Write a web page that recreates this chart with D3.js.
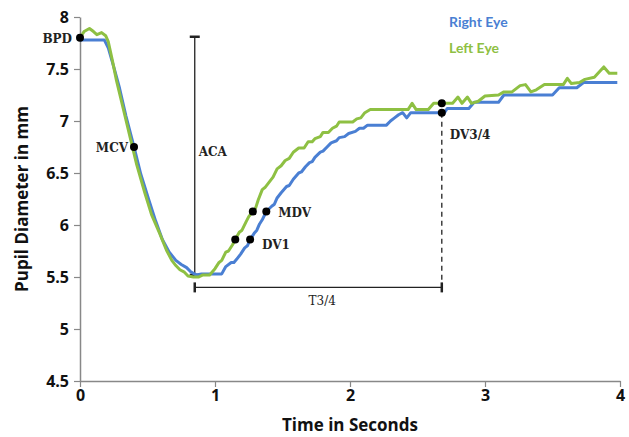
<!DOCTYPE html>
<html>
<head>
<meta charset="utf-8">
<script src="https://cdn.jsdelivr.net/npm/d3@7"></script>
<style>
  html, body { margin: 0; padding: 0; background: #fff; }
  svg { display: block; }
</style>
</head>
<body>
<div id="chart"></div>
<script>
(function () {
  'use strict';

  // ── Data (time in s, pupil diameter in mm) ──
  var RIGHT_EYE = [
    [0, 7.78], [0.18, 7.78], [0.21, 7.70], [0.25, 7.52], [0.29, 7.33], [0.34, 7.05],
    [0.40, 6.75], [0.45, 6.49], [0.51, 6.24], [0.56, 6.04], [0.61, 5.86], [0.66, 5.74],
    [0.71, 5.66], [0.75, 5.62], [0.79, 5.59], [0.82, 5.55], [0.86, 5.52], [0.90, 5.53],
    [1.05, 5.53], [1.08, 5.60], [1.12, 5.64], [1.14, 5.64], [1.16, 5.67], [1.19, 5.72],
    [1.22, 5.78], [1.24, 5.80], [1.26, 5.86], [1.29, 5.92], [1.31, 5.95], [1.33, 6.01],
    [1.35, 6.05], [1.38, 6.13], [1.42, 6.18], [1.44, 6.20], [1.46, 6.26], [1.49, 6.31],
    [1.53, 6.37], [1.55, 6.38], [1.58, 6.44], [1.62, 6.50], [1.64, 6.51], [1.67, 6.56],
    [1.70, 6.60], [1.72, 6.61], [1.74, 6.65], [1.78, 6.70], [1.80, 6.71], [1.83, 6.75],
    [1.86, 6.79], [1.90, 6.81], [1.92, 6.84], [1.96, 6.85], [1.99, 6.88], [2.04, 6.90],
    [2.07, 6.93], [2.10, 6.93], [2.13, 6.96], [2.27, 6.96], [2.30, 7.00], [2.33, 7.03],
    [2.36, 7.06], [2.39, 7.08], [2.42, 7.03], [2.45, 7.08], [2.70, 7.08], [2.72, 7.12],
    [2.88, 7.12], [2.92, 7.18], [3.10, 7.18], [3.14, 7.25], [3.50, 7.25], [3.55, 7.32],
    [3.68, 7.32], [3.73, 7.37], [3.98, 7.37]
  ];

  var LEFT_EYE = [
    [0, 7.80], [0.03, 7.86], [0.07, 7.89], [0.10, 7.86], [0.125, 7.83], [0.16, 7.85],
    [0.19, 7.82], [0.21, 7.76], [0.24, 7.58], [0.27, 7.39], [0.32, 7.12], [0.37, 6.85],
    [0.42, 6.58], [0.48, 6.31], [0.53, 6.10], [0.59, 5.92], [0.64, 5.76], [0.68, 5.66],
    [0.71, 5.61], [0.74, 5.57], [0.77, 5.55], [0.80, 5.51], [0.84, 5.50], [0.88, 5.50],
    [0.91, 5.52], [0.96, 5.52], [1.00, 5.58], [1.03, 5.64], [1.05, 5.66], [1.08, 5.74],
    [1.10, 5.75], [1.13, 5.81], [1.15, 5.86], [1.18, 5.93], [1.20, 5.95], [1.23, 6.03],
    [1.25, 6.08], [1.28, 6.13], [1.30, 6.16], [1.32, 6.24], [1.35, 6.34], [1.37, 6.36],
    [1.40, 6.41], [1.43, 6.46], [1.46, 6.54], [1.49, 6.57], [1.52, 6.62], [1.55, 6.64],
    [1.58, 6.70], [1.62, 6.74], [1.66, 6.74], [1.69, 6.80], [1.72, 6.80], [1.74, 6.83],
    [1.78, 6.85], [1.80, 6.89], [1.84, 6.89], [1.87, 6.93], [1.90, 6.95], [1.92, 6.99],
    [2.02, 6.99], [2.05, 7.02], [2.08, 7.03], [2.11, 7.08], [2.15, 7.11], [2.43, 7.11],
    [2.46, 7.17], [2.49, 7.11], [2.58, 7.11], [2.62, 7.17], [2.76, 7.17], [2.80, 7.23],
    [2.83, 7.17], [2.87, 7.23], [2.90, 7.17], [2.95, 7.19], [3.00, 7.24], [3.10, 7.25],
    [3.14, 7.28], [3.20, 7.28], [3.26, 7.34], [3.30, 7.35], [3.34, 7.28], [3.38, 7.30],
    [3.44, 7.35], [3.58, 7.35], [3.61, 7.41], [3.64, 7.36], [3.70, 7.37], [3.74, 7.40],
    [3.81, 7.42], [3.88, 7.52], [3.92, 7.46], [3.98, 7.46]
  ];

  var X_TICKS = [0, 1, 2, 3, 4];
  var Y_TICKS = [4.5, 5, 5.5, 6, 6.5, 7, 7.5, 8];

  var SERIES_NAMES = ['Right Eye', 'Left Eye'];

  // Marked points: [label or '', time, diameter]
  var MARKERS = [
    ['BPD', 0, 7.80],
    ['MCV', 0.40, 6.75],
    ['', 1.15, 5.86],
    ['DV1', 1.26, 5.86],
    ['', 1.28, 6.13],
    ['MDV', 1.38, 6.13],
    ['', 2.68, 7.17],
    ['DV3/4', 2.68, 7.08]
  ];

  // ACA span (time, from, to), T3/4 span (from, to, level)
  var ACA = [0.85, 5.52, 7.81];
  var T34 = [0.85, 2.68, 5.40];

  // ── Layout ──
  var WIDTH = 629;
  var HEIGHT = 437;
  var X_RANGE = [80, 620];
  var Y_RANGE = [381, 17];
  var BLUE = '#4a7fd3';
  var GREEN = '#8ec043';
  var AXIS_COLOR = '#888';
  var INK = '#222';
  var SANS = '"Open Sans", sans-serif';
  var SERIF = '"DejaVu Serif", serif';

  var svg = d3.select('#chart')
    .append('svg')
    .attr('width', WIDTH)
    .attr('height', HEIGHT);

  var x = d3.scaleLinear().domain([0, 4]).range(X_RANGE);
  var y = d3.scaleLinear().domain([4.5, 8]).range(Y_RANGE);

  // ── Axes ──
  var xG = svg.append('g')
    .attr('transform', 'translate(0,' + Y_RANGE[0] + ')')
    .call(d3.axisBottom(x).tickValues(X_TICKS).tickSize(6).tickSizeOuter(0).tickPadding(3)
      .tickFormat(function (d) { return d; }));

  var yG = svg.append('g')
    .attr('transform', 'translate(' + X_RANGE[0] + ',0)')
    .call(d3.axisLeft(y).tickValues(Y_TICKS).tickSize(6).tickSizeOuter(0).tickPadding(5)
      .tickFormat(function (d) { return d; }));

  [xG, yG].forEach(function (ax) {
    ax.select('.domain').attr('stroke', AXIS_COLOR).attr('stroke-width', 1.5);
    ax.selectAll('.tick line').attr('stroke', AXIS_COLOR).attr('stroke-width', 1.2);
    ax.selectAll('.tick text')
      .attr('fill', '#111')
      .attr('font-size', '16px')
      .attr('font-weight', 'bold')
      .attr('font-family', SANS);
  });

  svg.append('text')
    .attr('x', (X_RANGE[0] + X_RANGE[1]) / 2)
    .attr('y', 431)
    .attr('text-anchor', 'middle')
    .attr('fill', '#111')
    .attr('font-size', '17px')
    .attr('font-weight', 'bold')
    .attr('font-family', SANS)
    .text('Time in Seconds');

  svg.append('text')
    .attr('transform', 'rotate(-90)')
    .attr('x', -(Y_RANGE[0] + Y_RANGE[1]) / 2)
    .attr('y', 28)
    .attr('text-anchor', 'middle')
    .attr('fill', '#111')
    .attr('font-size', '17px')
    .attr('font-weight', 'bold')
    .attr('font-family', SANS)
    .text('Pupil Diameter in mm');

  // ── Annotation lines ──
  var ann = svg.append('g').attr('stroke', INK);

  ann.append('line')
    .attr('x1', x(ACA[0])).attr('x2', x(ACA[0]))
    .attr('y1', y(ACA[2])).attr('y2', y(ACA[1]))
    .attr('stroke-width', 1.3);
  ann.append('line')
    .attr('x1', x(ACA[0]) - 5).attr('x2', x(ACA[0]) + 5)
    .attr('y1', y(ACA[2])).attr('y2', y(ACA[2]))
    .attr('stroke-width', 2.5);
  ann.append('line')
    .attr('x1', x(ACA[0]) - 5).attr('x2', x(ACA[0]) + 5)
    .attr('y1', y(ACA[1])).attr('y2', y(ACA[1]))
    .attr('stroke-width', 2.5);

  ann.append('line')
    .attr('x1', x(T34[0])).attr('x2', x(T34[1]))
    .attr('y1', y(T34[2])).attr('y2', y(T34[2]))
    .attr('stroke-width', 1.3);
  [T34[0], T34[1]].forEach(function (t) {
    ann.append('line')
      .attr('x1', x(t)).attr('x2', x(t))
      .attr('y1', y(T34[2]) - 5).attr('y2', y(T34[2]) + 5)
      .attr('stroke-width', 2.5);
  });

  // dashed drop for DV3/4
  ann.append('line')
    .attr('x1', x(T34[1])).attr('x2', x(T34[1]))
    .attr('y1', y(7.08)).attr('y2', y(T34[2]))
    .attr('stroke-width', 1.3)
    .attr('stroke-dasharray', '5,4');

  // ── Curves ──
  var line = d3.line()
    .x(function (d) { return x(d[0]); })
    .y(function (d) { return y(d[1]); });

  svg.append('path')
    .datum(RIGHT_EYE)
    .attr('d', line)
    .attr('fill', 'none')
    .attr('stroke', BLUE)
    .attr('stroke-width', 3)
    .attr('stroke-linejoin', 'round');

  svg.append('path')
    .datum(LEFT_EYE)
    .attr('d', line)
    .attr('fill', 'none')
    .attr('stroke', GREEN)
    .attr('stroke-width', 3)
    .attr('stroke-linejoin', 'round');

  // ── Markers & labels ──
  svg.selectAll('.marker')
    .data(MARKERS)
    .join('circle')
    .attr('class', 'marker')
    .attr('cx', function (d) { return x(d[1]); })
    .attr('cy', function (d) { return y(d[2]); })
    .attr('r', 4)
    .attr('fill', '#000');

  // label offsets: [dx, dy, anchor]
  var LABEL_POS = {
    'BPD': [-8, 5, 'end'],
    'MCV': [-6, 5, 'end'],
    'DV1': [12, 9, 'start'],
    'MDV': [12, 6, 'start'],
    'DV3/4': [8, 26, 'start']
  };

  svg.selectAll('.mlabel')
    .data(MARKERS.filter(function (d) { return d[0]; }))
    .join('text')
    .attr('class', 'mlabel')
    .attr('x', function (d) { return x(d[1]) + LABEL_POS[d[0]][0]; })
    .attr('y', function (d) { return y(d[2]) + LABEL_POS[d[0]][1]; })
    .attr('text-anchor', function (d) { return LABEL_POS[d[0]][2]; })
    .attr('fill', INK)
    .attr('font-size', '12px')
    .attr('font-weight', 'bold')
    .attr('font-family', SERIF)
    .text(function (d) { return d[0]; });

  svg.append('text')
    .attr('x', x(ACA[0]) + 4)
    .attr('y', 156)
    .attr('fill', INK)
    .attr('font-size', '12px')
    .attr('font-weight', 'bold')
    .attr('font-family', SERIF)
    .text('ACA');

  svg.append('text')
    .attr('x', (x(T34[0]) + x(T34[1])) / 2 + 4)
    .attr('y', y(T34[2]) + 18)
    .attr('text-anchor', 'middle')
    .attr('fill', INK)
    .attr('font-size', '12px')
    .attr('font-family', SERIF)
    .text('T3/4');

  // ── Legend ──
  var legend = svg.append('g');
  [BLUE, GREEN].forEach(function (c, i) {
    legend.append('text')
      .attr('x', 449)
      .attr('y', 27 + i * 26)
      .attr('fill', c)
      .attr('font-size', '14px')
      .attr('font-weight', 'bold')
      .attr('font-family', 'Lato, sans-serif')
      .text(SERIES_NAMES[i]);
  });
})();
</script>
</body>
</html>
